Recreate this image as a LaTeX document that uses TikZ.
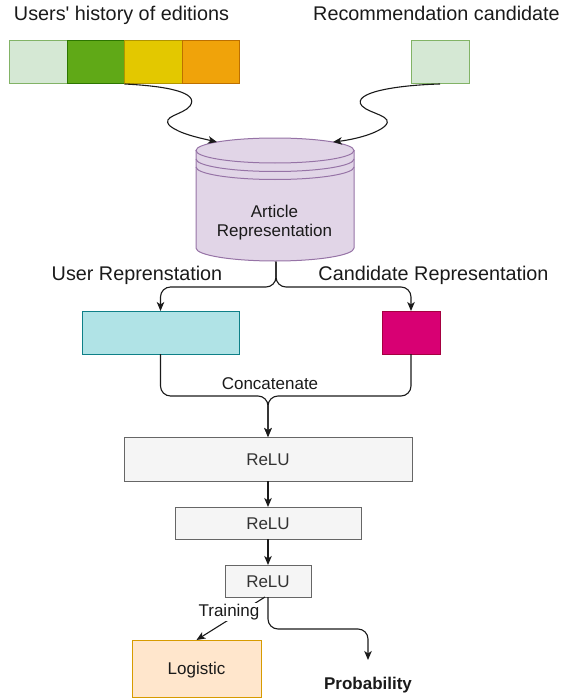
\documentclass[tikz,border=0pt]{standalone}
\usepackage{fontspec}
\setmainfont{Liberation Sans}
\newfontfamily\plainfont{Liberation Sans}
\usetikzlibrary{arrows.meta}
\definecolor{lgF}{HTML}{D5E8D4}\definecolor{lgD}{HTML}{82B366}
\definecolor{gF}{HTML}{60A917}\definecolor{gD}{HTML}{2D7600}
\definecolor{yF}{HTML}{E3C800}\definecolor{yD}{HTML}{B09500}
\definecolor{oF}{HTML}{F0A30A}\definecolor{oD}{HTML}{BD7000}
\definecolor{pF}{HTML}{E1D5E7}\definecolor{pD}{HTML}{9673A6}
\definecolor{cF}{HTML}{B0E3E6}\definecolor{cD}{HTML}{0E8088}
\definecolor{mF}{HTML}{D80073}\definecolor{mD}{HTML}{A50040}
\definecolor{grF}{HTML}{F5F5F5}\definecolor{grD}{HTML}{666666}\definecolor{grT}{HTML}{333333}
\definecolor{peF}{HTML}{FFE6CC}\definecolor{peD}{HTML}{D79B00}
\definecolor{txt}{HTML}{1A1A1A}
\newcommand\lblfont{\fontsize{19.8}{23}\selectfont}
\newcommand\boxfont{\fontsize{17}{20}\selectfont}
\begin{document}
\begin{tikzpicture}[x=1pt,y=-1pt,
  conn/.style={line width=1.1pt, draw=txt, -{Stealth[length=9pt,width=7.5pt,inset=2.5pt]}},
  bx/.style={line width=1pt, inner sep=0pt, outer sep=0pt, anchor=north west, font=\boxfont, text height=12.2pt, text depth=0pt},
  lbl/.style={font=\lblfont, inner sep=0pt, anchor=base, text=txt},
  sl/.style={font=\boxfont, inner sep=0pt, anchor=base, text=txt},
  relu/.style={bx, fill=grF, draw=grD, text=grT}]
\useasboundingbox (0,0) rectangle (565,698);

% top labels
\node[lbl] (histlbl) at (121.5,21) {\plainfont Users' history of editions};
\node[lbl] (candlbl) at (436.5,21) {Recommendation candidate};

% history boxes
\node[bx, fill=lgF, draw=lgD, minimum width=57.5pt, minimum height=43pt] (h1) at (9.5,41) {};
\node[bx, fill=gF, draw=gD, minimum width=57.5pt, minimum height=43pt] (h2) at (67,41) {};
\node[bx, fill=yF, draw=yD, minimum width=57.5pt, minimum height=43pt] (h3) at (124.5,41) {};
\node[bx, fill=oF, draw=oD, minimum width=57.5pt, minimum height=43pt] (h4) at (182,41) {};
\node[bx, fill=lgF, draw=lgD, minimum width=58pt, minimum height=43pt] (cand) at (411,41) {};

% cylinder
\fill[pF] (196,150) -- (196,248) arc (180:0:79 and 13) -- (354,150) -- cycle;
\draw[pD, line width=1pt] (196,150) -- (196,248) arc (180:0:79 and 13) -- (354,150);
\filldraw[fill=pF, draw=pD, line width=1pt] (275,150.5) ellipse [x radius=79, y radius=12.5];
\draw[pD, line width=1pt] (196,159) arc (180:0:79 and 12.5);
\draw[pD, line width=1pt] (196,167) arc (180:0:79 and 12.5);
\node[font=\boxfont, text=txt, align=center, inner sep=0pt] (art) at (274.5,223) {Article\\[-1pt]Representation};
\coordinate (cylL) at (217,142);
\coordinate (cylR) at (333,142);
\coordinate (cylB) at (276,261.5);

% wavy inputs
\draw[conn] (h2.south east) .. controls (165,86) and (200,92) .. (190,106)
   .. controls (183,115) and (160,116) .. (170,126)
   .. controls (180,134) and (200,138) .. (cylL);
\draw[conn] (cand.south) .. controls (400,85) and (350,92) .. (362,106)
   .. controls (370,114) and (395,116) .. (385,126)
   .. controls (375,135) and (350,140) .. (cylR);

% representations
\node[lbl] (userlbl) at (137,280) {User Reprenstation};
\node[lbl] (canrlbl) at (433.5,280) {Candidate Representation};
\node[bx, fill=cF, draw=cD, minimum width=157pt, minimum height=43pt] (user) at (82,311) {};
\node[bx, fill=mF, draw=mD, minimum width=58pt, minimum height=43pt] (crep) at (382,311) {};
\coordinate (split) at (276,287);
\draw[conn, rounded corners=10pt] (cylB) -- (split) -| (user.north);
\draw[conn, rounded corners=10pt] (cylB) -- (split) -| (crep.north);

% ReLU stack
\node[relu, minimum width=288pt, minimum height=44pt] (r1) at (124,437) {ReLU};
\node[relu, minimum width=186pt, minimum height=32pt] (r2) at (175,507) {ReLU};
\node[relu, minimum width=86pt, minimum height=32pt] (r3) at (225,565) {ReLU};

\coordinate (merge) at (268,396);
\draw[conn, rounded corners=10pt] (user.south) |- (merge) -- (r1.north);
\draw[conn, rounded corners=10pt] (crep.south) |- (merge) -- (r1.north);
\node[sl] (concat) at (270,389) {Concatenate};

\draw[conn] (r1.south) -- (r2.north);
\draw[conn] (r2.south) -- (r3.north);

% outputs
\node[bx, fill=peF, draw=peD, minimum width=129pt, minimum height=57pt, text=txt] (logi) at (132,640) {Logistic};
\draw[conn] ([xshift=-3pt]r3.south) -- (logi.north);
\node[sl, anchor=center, fill=white, inner sep=1.5pt] (train) at (229,612) {Training};
\coordinate (pmid) at (318,629);
\coordinate (ptip) at (368,660);
\draw[conn, rounded corners=10pt] (r3.south) |- (pmid) -| (ptip);
\node[sl, font=\boxfont\bfseries] (prob) at (368,689) {Probability};
\end{tikzpicture}
\end{document}
